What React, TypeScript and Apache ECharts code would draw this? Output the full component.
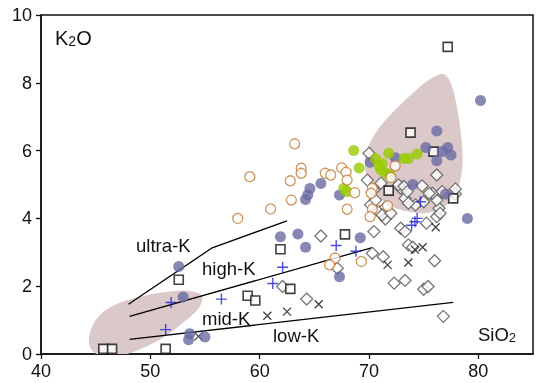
import React, { useEffect, useRef } from "react";
import * as echarts from "echarts";

// SiO2 (x) vs K2O (y)
const purpleCircles: number[][] = [
  [80.2, 7.48], [76.2, 6.58], [75.2, 6.09], [77.2, 6.09], [76.7, 5.97], [77.5, 5.87], [76.2, 5.7],
  [72.4, 5.79], [70.1, 5.66], [65.6, 5.03], [64.6, 4.88], [64.4, 4.7], [64.2, 4.56], [67.3, 4.69],
  [74.0, 5.0], [77.0, 4.72], [79.0, 4.0], [61.9, 3.46], [63.5, 3.54], [64.2, 3.15], [69.2, 3.43],
  [67.3, 2.28], [52.6, 2.58], [53.0, 1.68], [53.6, 0.6], [53.5, 0.42], [55.0, 0.5],
];
const greenCircles: number[][] = [
  [68.6, 6.0], [69.1, 5.49], [70.6, 5.77], [71.2, 5.62], [71.1, 5.43], [71.5, 5.33], [70.9, 5.55],
  [71.9, 5.3], [71.8, 5.92], [73.2, 5.77], [73.6, 5.77], [74.4, 5.9], [67.7, 4.89], [68.0, 4.79],
];
const orangeCircles: number[][] = [
  [63.2, 6.2], [63.8, 5.48], [63.8, 5.33], [62.8, 5.11], [59.1, 5.23], [62.9, 4.54], [61.0, 4.28],
  [58.0, 4.0], [66.0, 5.33], [66.5, 5.28], [67.5, 5.49], [67.9, 5.36], [68.0, 5.13], [68.7, 4.76],
  [70.3, 4.89], [70.2, 4.74], [68.0, 4.27], [70.3, 4.27], [70.1, 4.05], [71.7, 4.37], [72.4, 5.55],
  [72.0, 5.21], [66.9, 2.83], [66.4, 2.63], [69.3, 2.73],
];
const squares: number[][] = [
  [77.2, 9.06], [73.8, 6.53], [75.9, 5.97], [77.7, 4.59], [71.8, 4.82], [61.9, 3.09], [58.9, 1.72],
  [59.6, 1.58], [62.8, 1.92], [67.8, 3.53], [52.6, 2.19], [45.7, 0.15], [46.5, 0.15], [51.4, 0.15],
];
const diamonds: number[][] = [
  [65.6, 3.48], [70.45, 3.61], [70.3, 2.97], [71.3, 2.87], [67.1, 2.53], [72.3, 2.09], [73.3, 2.17],
  [75.0, 1.91], [75.4, 1.99], [76.0, 2.75], [76.8, 1.11], [73.6, 3.22], [74.0, 3.15], [72.9, 3.71],
  [73.3, 3.61], [75.25, 3.86], [76.2, 4.05], [76.4, 4.3], [71.5, 3.98], [70.9, 4.2], [70.15, 4.4],
  [70.6, 4.54], [73.3, 4.59], [74.25, 4.4], [75.0, 4.49], [76.2, 4.54], [75.8, 4.74], [77.9, 4.72],
  [76.2, 5.28], [77.9, 4.87], [72.9, 4.89], [74.85, 4.96], [75.5, 4.74], [76.7, 4.79], [73.6, 4.45],
  [76.5, 4.15], [70.0, 5.92], [69.85, 5.13], [71.1, 5.04], [70.45, 4.84], [72.7, 4.99], [73.2, 4.94],
  [73.5, 4.79], [71.5, 4.33], [71.2, 4.1], [72.0, 4.15], [62.1, 1.99], [64.3, 1.62],
];
const plusMarks: number[][] = [
  [51.9, 1.52], [51.4, 0.72], [56.5, 1.62], [61.2, 2.08], [62.1, 2.56], [67.0, 3.2], [68.8, 3.03],
  [74.7, 4.49], [74.4, 4.0], [74.2, 3.9], [73.9, 3.8],
];
const crossMarks: number[][] = [
  [54.4, 0.52], [60.7, 1.13], [62.5, 1.25], [65.4, 1.47], [71.7, 2.63], [73.6, 2.7], [74.2, 3.08],
  [74.9, 3.15], [76.1, 3.74],
];
// boundary lines
const ultraHighLine: number[][] = [[48, 1.47], [55.6, 3.12], [62.5, 3.93]];
const highMidLine: number[][] = [[48.1, 1.11], [70.3, 3.14]];
const midLowLine: number[][] = [[48.1, 0.43], [77.7, 1.52]];
// shaded fields (outlines in data units)
const fieldLowLeft: number[][] = [
  [44.47, 0.63], [45.4, 1.16], [47.2, 1.51], [49.5, 1.72], [51.8, 1.84], [53.6, 1.86], [54.7, 1.72],
  [54.5, 1.39], [53.1, 0.95], [51.3, 0.51], [49.0, 0.13], [47.2, -0.05], [45.4, -0.05], [44.5, 0.19],
];
const fieldHighRight: number[][] = [
  [76.53, 8.25], [75.46, 8.08], [74.09, 7.72], [72.73, 7.31], [71.51, 6.9], [70.6, 6.52], [69.9, 6.08],
  [69.63, 5.58], [69.99, 5.07], [70.9, 4.63], [72.27, 4.33], [73.82, 4.19], [75.28, 4.16], [76.83, 4.33],
  [77.83, 4.68], [78.38, 5.18], [78.56, 5.71], [78.47, 6.3], [78.1, 7.19], [77.56, 7.93], [77.01, 8.22],
];
const xTicks = { min: 40, max: 85, interval: 10 };
const yTicks = { min: 0, max: 10, interval: 2 };

const FONT = "'Liberation Sans', Arial, sans-serif";

function fieldSeries(points: number[][]) {
  return {
    type: "custom",
    silent: true,
    clip: true,
    z: 1,
    data: [points[0]],
    renderItem: (_p: any, api: any) => {
      const pts = points.map((p) => api.coord(p));
      return {
        type: "polygon",
        shape: { points: pts, smooth: 0.35 },
        style: { fill: "#dbc8c8" },
      };
    },
  };
}

function lineSeries(points: number[][]) {
  return {
    type: "line",
    data: points,
    symbol: "none",
    silent: true,
    z: 2,
    lineStyle: { color: "#000", width: 1.3 },
  };
}

export default function App() {
  const ref = useRef<HTMLDivElement>(null);
  useEffect(() => {
    if (!ref.current) return;
    const chart = echarts.init(ref.current, undefined, { renderer: "svg" });
    const labelFont = { fontSize: 18.5, fontFamily: FONT, fill: "#111" };
    chart.setOption({
      animation: false,
      grid: {
        left: 41, right: 7, top: 15, bottom: 29, show: true, borderColor: "#111", borderWidth: 1.5,
        containLabel: false, outerBoundsMode: "none",
      },
      xAxis: {
        type: "value",
        ...xTicks,
        axisLine: { show: true, lineStyle: { color: "#111", width: 1.5 } },
        axisTick: { show: true, length: 5, lineStyle: { color: "#111", width: 1.3 } },
        axisLabel: {
          fontSize: 18, fontFamily: FONT, color: "#111", margin: 8, showMaxLabel: false,
          formatter: (v: number) => (v % 10 === 0 ? String(v) : ""),
        },
        splitLine: { show: false },
      },
      yAxis: {
        type: "value",
        ...yTicks,
        axisLine: { show: true, lineStyle: { color: "#111", width: 1.5 } },
        axisTick: { show: true, length: 5, lineStyle: { color: "#111", width: 1.3 } },
        axisLabel: { fontSize: 18, fontFamily: FONT, color: "#111", margin: 9 },
        splitLine: { show: false },
      },
      graphic: [
        { type: "text", left: 55, top: 28, style: { text: "{a|K}{b|2}{a|O}", rich: { a: { fontSize: 20, fontFamily: FONT, fill: "#111" }, b: { fontSize: 14, fontFamily: FONT, fill: "#111", verticalAlign: "bottom" } } } },
        { type: "text", x: 136, y: 245, style: { ...labelFont, text: "ultra-K", verticalAlign: "middle" } },
        { type: "text", x: 202, y: 268, style: { ...labelFont, text: "high-K", verticalAlign: "middle" } },
        { type: "text", x: 202, y: 318, style: { ...labelFont, text: "mid-K", verticalAlign: "middle" } },
        { type: "text", x: 273, y: 335, style: { ...labelFont, text: "low-K", verticalAlign: "middle" } },
        { type: "text", left: 478, top: 325, style: { text: "{a|SiO}{b|2}", rich: { a: { fontSize: 18.5, fontFamily: FONT, fill: "#111" }, b: { fontSize: 13, fontFamily: FONT, fill: "#111", verticalAlign: "bottom" } } } },
      ],
      series: [
        fieldSeries(fieldLowLeft),
        fieldSeries(fieldHighRight),
        lineSeries(ultraHighLine),
        lineSeries(highMidLine),
        lineSeries(midLowLine),
        {
          type: "scatter", data: diamonds, symbol: "diamond", symbolSize: 12, silent: true, z: 3,
          itemStyle: { color: "#fff", borderColor: "#555", borderWidth: 1.3 },
        },
        {
          type: "scatter", data: squares, symbol: "rect", symbolSize: 9, silent: true, z: 3,
          itemStyle: { color: "#fff", borderColor: "#111", borderWidth: 1.6 },
        },
        {
          type: "scatter", data: crossMarks, symbol: "path://M0,0L10,10M10,0L0,10", symbolSize: 8, silent: true, z: 3,
          itemStyle: { color: "rgba(0,0,0,0)", borderColor: "#111", borderWidth: 1.3 },
        },
        {
          type: "scatter", data: plusMarks, symbol: "path://M5,0L5,10M0,5L10,5", symbolSize: 11, silent: true, z: 3,
          itemStyle: { color: "rgba(0,0,0,0)", borderColor: "#2020d0", borderWidth: 1.4 },
        },
        {
          type: "scatter", data: purpleCircles, symbol: "circle", symbolSize: 11, silent: true, z: 3,
          itemStyle: { color: "#6a6aa2" },
        },
        {
          type: "scatter", data: greenCircles, symbol: "circle", symbolSize: 11, silent: true, z: 3,
          itemStyle: { color: "#99cc00" },
        },
        {
          type: "scatter", data: orangeCircles, symbol: "circle", symbolSize: 10, silent: true, z: 3,
          itemStyle: { color: "#fff", borderColor: "#c27a35", borderWidth: 1.3 },
        },
      ],
    });
    return () => chart.dispose();
  }, []);
  return <div ref={ref} style={{ position: "fixed", left: 0, top: 0, width: 540, height: 383 }} />;
}
